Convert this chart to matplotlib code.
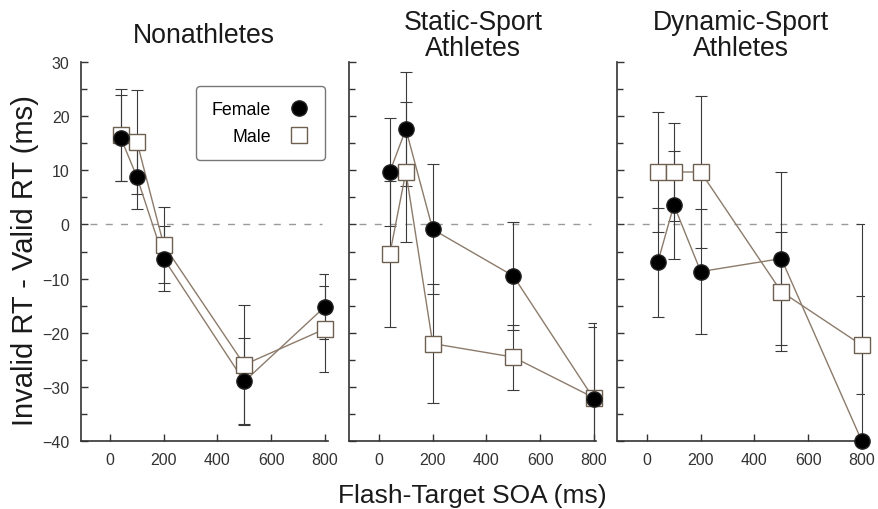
import numpy as np
import matplotlib.pyplot as plt

plt.rcParams['font.family'] = ['Liberation Sans', 'DejaVu Sans']

# flash-target SOA conditions (ms)
soa = [40, 100, 200, 500, 800]

# cueing effect = invalid RT - valid RT (ms), with error bars
groups = ["Nonathletes", "Static-Sport\nAthletes", "Dynamic-Sport\nAthletes"]

female_mean = [
    [16, 8.8, -6.3, -29, -15.2],
    [9.7, 17.6, -0.9, -9.5, -32.2],
    [-7, 3.6, -8.7, -6.3, -40],
]
female_err = [
    [8, 6, 6, 8, 6],
    [10, 10.5, 12, 10, 14],
    [10, 10, 11.5, 16, 40],
]
male_mean = [
    [16.5, 15.3, -3.8, -25.9, -19.3],
    [-5.5, 9.7, -22, -24.5, -32],
    [9.7, 9.7, 9.7, -12.4, -22.3],
]
male_err = [
    [8.5, 9.6, 7, 11, 8],
    [13.5, 13, 11, 6, 13],
    [11, 9, 14, 11, 9],
]

line_col = '#8c7b6b'
bar_col = '#3a3a3a'

fig = plt.figure(figsize=(8.79, 5.10), dpi=100)
lefts = [0.0916, 0.3976, 0.7025]
axes = [fig.add_axes([l, 0.1333, 0.281, 0.743]) for l in lefts]

for i, ax in enumerate(axes):
    ax.hlines(0, -75, 790, colors='#9a9a9a', linestyles=(0, (5, 6)), lw=1, zorder=1)

    # male: open squares
    ax.errorbar(soa, male_mean[i], yerr=male_err[i], fmt='none', ecolor=bar_col,
                elinewidth=0.8, capsize=4, capthick=0.8, zorder=2)
    ax.plot(soa, male_mean[i], '-', color=line_col, lw=1, zorder=3)
    ax.plot(soa, male_mean[i], 's', ms=12, mfc='white', mec='#6e6050', mew=1,
            zorder=5, clip_on=False, label='Male')

    # female: filled circles
    ax.errorbar(soa, female_mean[i], yerr=female_err[i], fmt='none', ecolor=bar_col,
                elinewidth=0.8, capsize=4, capthick=0.8, zorder=2)
    ax.plot(soa, female_mean[i], '-', color=line_col, lw=1, zorder=3)
    ax.plot(soa, female_mean[i], 'o', ms=11, mfc='black', mec='#222222', mew=1,
            zorder=6, clip_on=False, label='Female')

    ax.set_xlim(-110, 810)
    ax.set_ylim(-40, 30)
    ax.set_xticks([0, 200, 400, 600, 800])
    ax.set_yticks(np.arange(-40, 31, 10))
    ax.set_yticks(np.arange(-35, 30, 10), minor=True)
    ax.tick_params(direction='in', length=5, width=1, labelsize=11.5,
                   colors='#333333', labelcolor='#333333', pad=8)
    ax.tick_params(which='minor', direction='in', length=4, width=1, colors='#333333')
    if i > 0:
        ax.tick_params(labelleft=False)
    for s in ['top', 'right']:
        ax.spines[s].set_visible(False)
    for s in ['left', 'bottom']:
        ax.spines[s].set_color('#333333')
        ax.spines[s].set_linewidth(1.2)
    # group title, centred vertically above the panel
    ax.text(0.5, 1.072, groups[i], transform=ax.transAxes, fontsize=19.2,
            linespacing=1.0, ha='center', va='center', color='#1a1a1a')

# legend in the first panel, labels left of markers
h, l = axes[0].get_legend_handles_labels()
leg = axes[0].legend([h[1], h[0]], [l[1], l[0]], loc='upper right',
                     bbox_to_anchor=(0.99, 0.937), borderaxespad=0,
                     markerfirst=False, fontsize=12.8,
                     handlelength=1.2, labelspacing=0.55, borderpad=0.85,
                     handletextpad=1.0, fancybox=True, framealpha=1,
                     edgecolor='#777777')
leg.get_frame().set_linewidth(1)
leg._legend_box.align = 'right'

fig.text(0.0285, 0.49, "Invalid RT - Valid RT (ms)", rotation=90, fontsize=21,
         ha='center', va='center', color='#1a1a1a')
fig.text(0.537, 0.013, "Flash-Target SOA (ms)", fontsize=19, ha='center',
         va='baseline', color='#1a1a1a')

fig.savefig('out.png', dpi=100)
